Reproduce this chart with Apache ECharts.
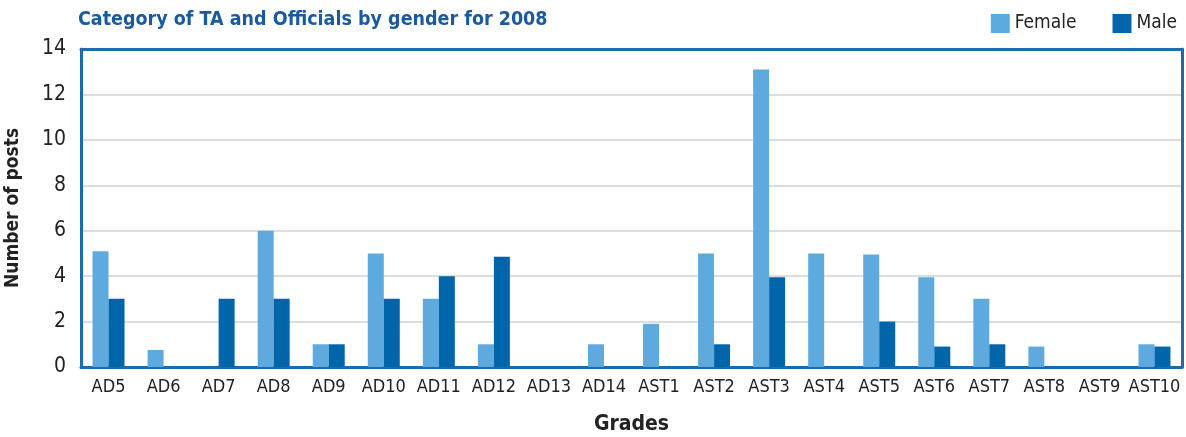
<!DOCTYPE html>
<html>
<head>
<meta charset="utf-8">
<script src="https://cdn.jsdelivr.net/npm/echarts@6/dist/echarts.min.js"></script>
<style>
  html, body { margin: 0; padding: 0; background: #fff; }
  #chart { width: 1186px; height: 437px; }
</style>
</head>
<body>
<div id="chart"></div>
<script>
  const grades = ['AD5', 'AD6', 'AD7', 'AD8', 'AD9', 'AD10', 'AD11', 'AD12', 'AD13', 'AD14',
    'AST1', 'AST2', 'AST3', 'AST4', 'AST5', 'AST6', 'AST7', 'AST8', 'AST9', 'AST10'];
  const female = [5.1, 0.75, 0, 6, 1, 5, 3, 1, 0, 1, 1.9, 5, 13.1, 5, 4.95, 3.95, 3, 0.9, 0, 1];
  const male = [3, 0, 3, 3, 1, 3, 4, 4.85, 0, 0, 0, 1, 3.95, 0, 2, 0.9, 1, 0, 0, 0.9];

  const font = '"DejaVu Sans Condensed", "Liberation Sans Narrow", "Roboto", sans-serif';
  const frame = { show: true, onZero: false, lineStyle: { color: '#1f6aab', width: 3 } };
  let chart = echarts.init(document.getElementById('chart'));
  let option = {
    animation: false,
    title: {
      text: 'Category of TA and Officials by gender for 2008',
      left: 73,
      top: 5,
      textStyle: { color: '#1a5a9e', fontSize: 19.5, fontWeight: 'bold', fontFamily: font }
    },
    legend: {
      right: 4,
      top: 9,
      icon: 'rect',
      itemWidth: 19,
      itemHeight: 19,
      itemGap: 36,
      textStyle: { color: '#222', fontSize: 19, fontFamily: font },
      data: ['Female', 'Male']
    },
    grid: {
      left: 81,
      right: 4,
      top: 49,
      bottom: 70,
      outerBoundsMode: 'none'
    },
    xAxis: [
      {
        type: 'category',
        data: grades,
        name: 'Grades',
        nameLocation: 'middle',
        nameGap: 47,
        nameTextStyle: { color: '#222', fontSize: 21, fontWeight: 'bold', fontFamily: font },
        axisLine: frame,
        axisTick: { show: false },
        axisLabel: { color: '#222', fontSize: 18, margin: 11, interval: 0, fontFamily: font }
      },
      {
        type: 'category',
        data: grades,
        position: 'top',
        axisLine: frame,
        axisTick: { show: false },
        axisLabel: { show: false }
      }
    ],
    yAxis: [
      {
        type: 'value',
        min: 0,
        max: 14,
        interval: 2,
        name: 'Number of posts',
        nameLocation: 'middle',
        nameGap: 58,
        nameTextStyle: { color: '#222', fontSize: 19, fontWeight: 'bold', fontFamily: font },
        axisLine: frame,
        axisTick: { show: false },
        axisLabel: { color: '#222', fontSize: 21, margin: 15, fontFamily: font },
        splitLine: { lineStyle: { color: '#d2d2d2', width: 1.5 } }
      },
      {
        type: 'value',
        min: 0,
        max: 14,
        interval: 2,
        position: 'right',
        axisLine: frame,
        axisTick: { show: false },
        axisLabel: { show: false },
        splitLine: { show: false }
      }
    ],
    series: [
      {
        name: 'Female',
        type: 'bar',
        data: female,
        barWidth: 16,
        barGap: '0%',
        itemStyle: { color: '#5eaadf' }
      },
      {
        name: 'Male',
        type: 'bar',
        data: male,
        barWidth: 16,
        barGap: '0%',
        itemStyle: { color: '#0066a9' }
      }
    ]
  };
  chart.setOption(option);
</script>
</body>
</html>
